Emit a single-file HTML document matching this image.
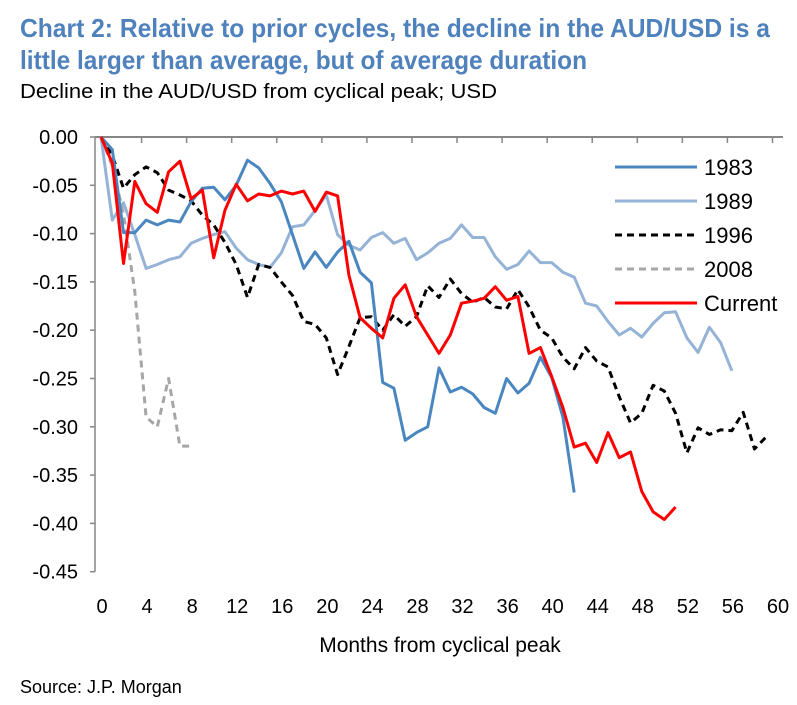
<!DOCTYPE html>
<html><head><meta charset="utf-8">
<style>
html,body{margin:0;padding:0;background:#fff;}
svg{display:block;}
text{font-family:"Liberation Sans Narrow","Liberation Sans",sans-serif;}
</style></head>
<body>
<svg id="chart" width="797" height="705" viewBox="0 0 797 705" xmlns="http://www.w3.org/2000/svg">
  <text x="20" y="37" font-size="26" font-weight="bold" fill="#4F81BD" textLength="750" lengthAdjust="spacingAndGlyphs">Chart 2: Relative to prior cycles, the decline in the AUD/USD is a</text>
  <text x="20" y="69" font-size="26" font-weight="bold" fill="#4F81BD" textLength="567" lengthAdjust="spacingAndGlyphs">little larger than average, but of average duration</text>
  <text x="20" y="98" font-size="20" fill="#000" textLength="477" lengthAdjust="spacingAndGlyphs">Decline in the AUD/USD from cyclical peak; USD</text>
  <g id="axes"></g>
  <g id="series"></g>
  <g id="legend"></g>
  <text x="440" y="652" font-size="21" text-anchor="middle" fill="#000">Months from cyclical peak</text>
  <text x="20" y="693" font-size="18" fill="#000">Source: J.P. Morgan</text>
</svg>
<script>
const months = Array.from({length:61},(_,i)=>i);
const xTickLabels = [0,4,8,12,16,20,24,28,32,36,40,44,48,52,56,60];
const yTickLabels = [0,-0.05,-0.1,-0.15,-0.2,-0.25,-0.3,-0.35,-0.4,-0.45];
const seriesNames = ["1983","1989","1996","2008","Current"];
const s1983 = [0,-0.013,-0.099,-0.099,-0.086,-0.091,-0.086,-0.088,-0.067,-0.053,-0.052,-0.065,-0.050,-0.024,-0.032,-0.048,-0.067,-0.101,-0.136,-0.119,-0.135,-0.119,-0.108,-0.140,-0.151,-0.254,-0.260,-0.314,-0.306,-0.300,-0.239,-0.264,-0.259,-0.266,-0.280,-0.286,-0.250,-0.265,-0.255,-0.228,-0.249,-0.290,-0.368];
const s1989 = [0,-0.086,-0.068,-0.101,-0.136,-0.132,-0.127,-0.124,-0.110,-0.105,-0.101,-0.098,-0.115,-0.127,-0.132,-0.135,-0.120,-0.093,-0.091,-0.076,-0.060,-0.101,-0.112,-0.117,-0.104,-0.099,-0.110,-0.105,-0.127,-0.120,-0.110,-0.105,-0.091,-0.104,-0.104,-0.124,-0.137,-0.132,-0.118,-0.130,-0.130,-0.140,-0.145,-0.172,-0.175,-0.191,-0.205,-0.198,-0.207,-0.193,-0.182,-0.181,-0.208,-0.223,-0.197,-0.213,-0.242];
const s1996 = [0,-0.019,-0.053,-0.039,-0.031,-0.037,-0.055,-0.060,-0.066,-0.081,-0.091,-0.109,-0.132,-0.166,-0.132,-0.135,-0.150,-0.164,-0.191,-0.194,-0.208,-0.246,-0.217,-0.187,-0.186,-0.200,-0.184,-0.196,-0.186,-0.154,-0.166,-0.147,-0.162,-0.171,-0.166,-0.176,-0.178,-0.158,-0.176,-0.200,-0.208,-0.228,-0.240,-0.218,-0.232,-0.238,-0.269,-0.296,-0.286,-0.257,-0.263,-0.286,-0.327,-0.301,-0.308,-0.303,-0.304,-0.285,-0.323,-0.311];
const s2008 = [0,-0.03,-0.08,-0.16,-0.29,-0.30,-0.25,-0.32,-0.32];
const sCurrent = [0,-0.027,-0.131,-0.046,-0.069,-0.078,-0.036,-0.025,-0.064,-0.055,-0.125,-0.076,-0.049,-0.066,-0.059,-0.061,-0.056,-0.059,-0.056,-0.077,-0.057,-0.061,-0.143,-0.187,-0.198,-0.208,-0.167,-0.153,-0.186,-0.205,-0.224,-0.205,-0.172,-0.170,-0.167,-0.155,-0.169,-0.165,-0.224,-0.218,-0.248,-0.280,-0.321,-0.317,-0.337,-0.306,-0.332,-0.326,-0.367,-0.388,-0.396,-0.383];

const NS="http://www.w3.org/2000/svg";
const X0=101, XW=676/60, Y0=137, YS=966;
function xs(m){return X0+m*XW;}
function ys(v){return Y0-v*YS;}
function mk(tag,attrs,parent){const e=document.createElementNS(NS,tag);for(const k in attrs)e.setAttribute(k,attrs[k]);parent.appendChild(e);return e;}

const axes=document.getElementById('axes');
const yAxis=mk('line',{x1:95,y1:137,x2:95,y2:ys(-0.45),stroke:'#868686','stroke-width':1.5},axes);


const xAxis=mk('line',{x1:95,y1:137,x2:783,y2:137,stroke:'#868686','stroke-width':2},axes);


yTickLabels.forEach(v=>{
  const t=mk('line',{x1:90,y1:ys(v),x2:95,y2:ys(v),stroke:'#868686','stroke-width':1.5},axes);
  
  
  const l=mk('text',{x:78,y:ys(v)+7,'font-size':20,'text-anchor':'end',fill:'#000'},axes);
  
  
  l.textContent=v.toFixed(2);
});
xTickLabels.forEach(m=>{
  if(m>0){
    const t=mk('line',{x1:xs(m)-XW*0.4,y1:137,x2:xs(m)-XW*0.4,y2:143,stroke:'#868686','stroke-width':1.5},axes);
    
    
  }
  const l=mk('text',{x:xs(m)+1,y:613,'font-size':20,'text-anchor':'middle',fill:'#000'},axes);
  
  
  l.textContent=m;
});

const styles={
 "1983":{data:s1983,color:'#4A86BF',dash:null},
 "1989":{data:s1989,color:'#95B3D7',dash:null},
 "1996":{data:s1996,color:'#000000',dash:'7,5'},
 "2008":{data:s2008,color:'#A6A6A6',dash:'7,5'},
 "Current":{data:sCurrent,color:'#FF0000',dash:null}
};
const sg=document.getElementById('series');
const lg=document.getElementById('legend');
const order=["1989","1996","2008","1983","Current"];
order.forEach(n=>{
  const st=styles[n];
  const pts=st.data.map((v,i)=>xs(months[i]).toFixed(1)+','+ys(v).toFixed(1)).join(' ');
  const a={points:pts,fill:'none',stroke:st.color,'stroke-width':3,'stroke-linejoin':'round'};
  if(st.dash)a['stroke-dasharray']=st.dash;
  const p=mk('polyline',a,sg);
  
  
});
seriesNames.forEach((n,i)=>{
  const st=styles[n];
  const y=167+i*34;
  const a={x1:615,y1:y,x2:697,y2:y,stroke:st.color,'stroke-width':3};
  if(st.dash)a['stroke-dasharray']=st.dash;
  const ln=mk('line',a,lg);
  
  
  const t=mk('text',{x:704,y:y+8,'font-size':22,fill:'#000'},lg);
  
  
  t.textContent=n;
});
</script>
</body></html>
